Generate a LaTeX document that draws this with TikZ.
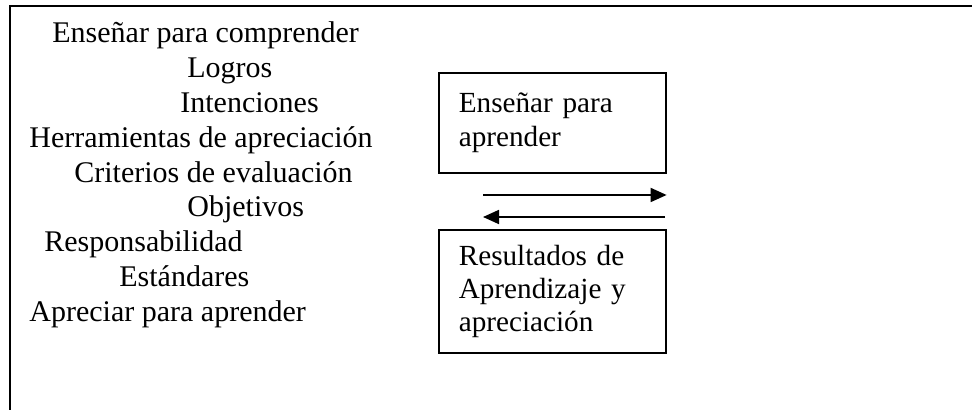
\documentclass[tikz,border=0pt]{standalone}
\usepackage{fontspec}
\setmainfont{Liberation Serif}
\usetikzlibrary{arrows.meta,positioning}
\tikzset{
    %Define standard arrow tip
    >={Triangle[length=8pt,width=7pt]},
    %Define style for the listed words
    item/.style={
           anchor=base west,
           inner sep=0pt,
           font=\fontsize{15}{17}\selectfont},
    %Define style for boxes
    block/.style={
           rectangle,
           draw=black, line width=0.8pt,
           anchor=north west,
           text width=93.5pt,
           inner xsep=10pt,
           inner ysep=0pt,
           align=left,
           font=\fontsize{14.6}{16.6}\selectfont},
    % Define arrow style
    arrow/.style={
           ->,
           line width=0.9pt},
    frame/.style={
           line width=1.2pt},
}
\begin{document}
\begin{tikzpicture}[x=0.5pt,y=-0.5pt]
\useasboundingbox (0,0) rectangle (972,410);
\draw[frame] (10,420) -- (10,6) -- (980,6);
% left column of words
\node[item] (comprender)      at (52,43)  {Enseñar para comprender};
\node[item] (logros)          at (187,78) {Logros};
\node[item] (intenciones)     at (180,113) {Intenciones};
\node[item] (herramientas)    at (29,148) {Herramientas de apreciación};
\node[item] (criterios)       at (74,183) {Criterios de evaluación};
\node[item] (objetivos)       at (187,217) {Objetivos};
\node[item] (responsabilidad) at (44,252) {Responsabilidad};
\node[item] (estandares)      at (119,287) {Estándares};
\node[item] (apreciar)        at (29,322) {Apreciar para aprender};
% boxes on the right
\node[block, minimum height=50pt]   (ensenar)    at (438,72)  {Enseñar para\\aprender};
\node[block, minimum height=61.7pt] (resultados) at (438,229) {Resultados de\\Aprendizaje y\\apreciación};
\coordinate (fwd)  at (483,195);
\coordinate (back) at (665,217);
\draw[arrow] (fwd) -- (fwd -| ensenar.east);
\draw[arrow] (back) -- (back -| fwd);
\end{tikzpicture}
\end{document}
